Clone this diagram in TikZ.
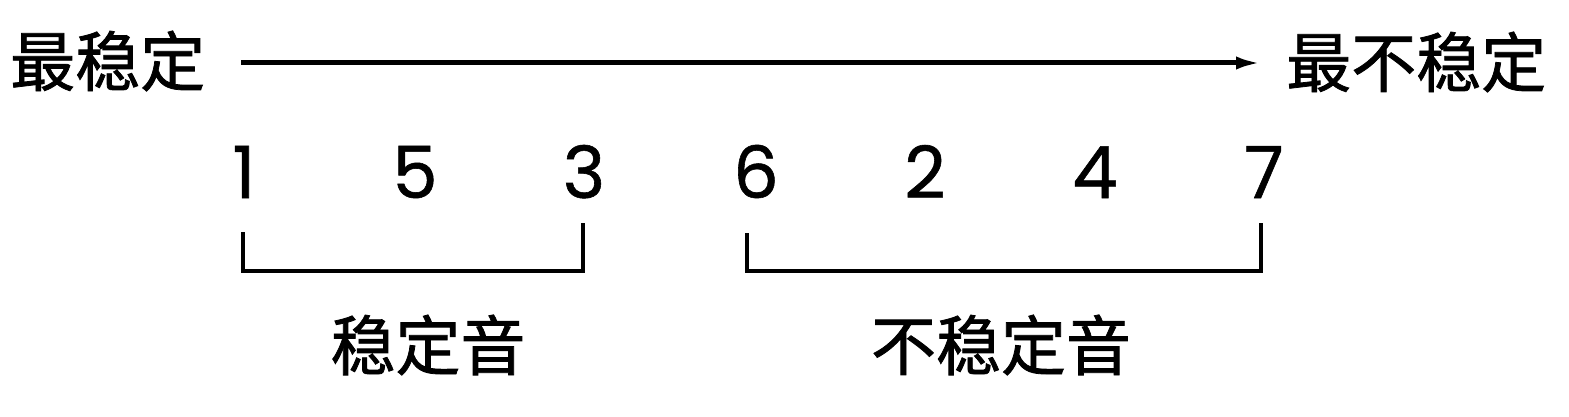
\documentclass[tikz,border=0pt]{standalone}
\usepackage{fontspec}
\setmainfont{Poppins}[FakeBold=0.8]
\newfontfamily\cjk{Noto Sans CJK SC}[FakeBold=1.2]
\usetikzlibrary{arrows.meta, positioning}
\tikzset{
    endLabel/.style={font=\cjk\fontsize{65}{70}\selectfont, inner sep=0pt},
    groupLabel/.style={font=\cjk\fontsize{65}{70}\selectfont, inner sep=0pt},
    degree/.style={font=\fontsize{72}{80}\selectfont, inner sep=0pt, anchor=base},
    scaleArrow/.style={-{Latex[length=26pt, width=13pt]}, line width=5pt},
    groupBracket/.style={line width=3.5pt, line join=miter},
}

\begin{document}
\begin{tikzpicture}[x=1pt, y=-1pt]
        \useasboundingbox (0,0) rectangle (1569,417);

        % ends of the scale
        \node[endLabel, anchor=west] (lo) at (10, 61) {最稳定};
        \node[endLabel, anchor=west] (hi) at (1286, 62) {最不稳定};
        \coordinate (axisStart) at (241, 63);
        \coordinate (axisEnd) at (1262, 63);
        \draw[scaleArrow] (axisStart) -- (axisEnd);

        % scale degrees
        \node[degree] (d1) at (244, 198) {1};
        \node[degree] (d5) at (415, 198) {5};
        \node[degree] (d3) at (584, 198) {3};
        \node[degree] (d6) at (756, 198) {6};
        \node[degree] (d2) at (925, 198) {2};
        \node[degree] (d4) at (1095, 198) {4};
        \node[degree] (d7) at (1264, 198) {7};

        % brackets
        \coordinate (stableL) at (243, 232);
        \coordinate (stableR) at (583, 223);
        \coordinate (unstableL) at (747, 233);
        \coordinate (unstableR) at (1261, 223);
        \draw[groupBracket] (stableL) -- (243, 271) -- (583, 271) -- (stableR);
        \draw[groupBracket] (unstableL) -- (747, 271) -- (1261, 271) -- (unstableR);

        \node[groupLabel] (stable) at (428, 345) {稳定音};
        \node[groupLabel] (unstable) at (1001, 345) {不稳定音};

    \end{tikzpicture}
\end{document}
